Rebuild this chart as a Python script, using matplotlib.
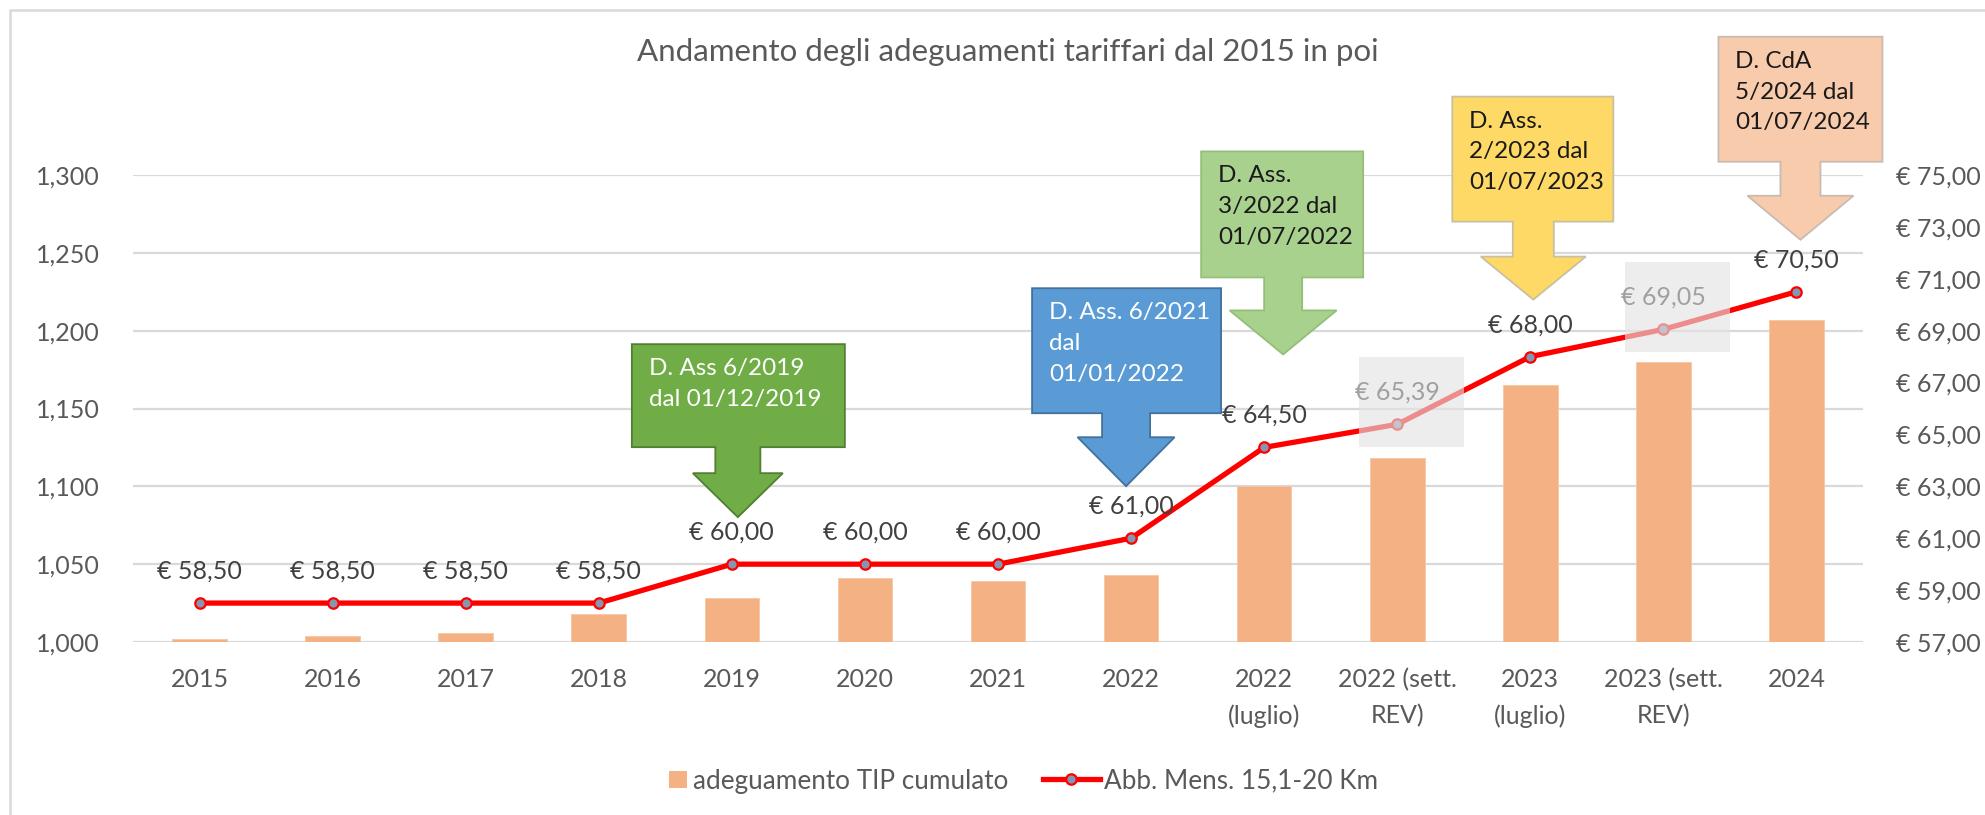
import matplotlib
matplotlib.use('Agg')
import matplotlib.pyplot as plt
from matplotlib.patches import Polygon, Rectangle
from matplotlib.lines import Line2D
from matplotlib.legend_handler import HandlerPatch
import matplotlib.patches as mpatches

plt.rcParams['font.family'] = ['Lato', 'DejaVu Sans']

# ---------------- data ----------------
categories = ["2015", "2016", "2017", "2018", "2019", "2020", "2021", "2022",
              "2022\n(luglio)", "2022 (sett.\nREV)", "2023\n(luglio)",
              "2023 (sett.\nREV)", "2024"]
tip_cumulato = [1.002, 1.004, 1.006, 1.018, 1.028, 1.041, 1.039, 1.043,
                1.100, 1.118, 1.165, 1.180, 1.207]
abb_mensile = [58.50, 58.50, 58.50, 58.50, 60.00, 60.00, 60.00, 61.00,
               64.50, 65.39, 68.00, 69.05, 70.50]
highlighted = [False, False, False, False, False, False, False, False,
               False, True, False, True, False]
left_ticks = [1.000, 1.050, 1.100, 1.150, 1.200, 1.250, 1.300]
right_ticks = [57, 59, 61, 63, 65, 67, 69, 71, 73, 75]

title = "Andamento degli adeguamenti tariffari dal 2015 in poi"
bar_label = "adeguamento TIP cumulato"
line_label = "Abb. Mens. 15,1-20 Km"

callout_index = [4, 7, 8, 10, 12]
callout_texts = ["D. Ass 6/2019\ndal 01/12/2019",
                 "D. Ass. 6/2021\ndal\n01/01/2022",
                 "D. Ass.\n3/2022 dal\n01/07/2022",
                 "D. Ass.\n2/2023 dal\n01/07/2023",
                 "D. CdA\n5/2024 dal\n01/07/2024"]

# ---------------- styles ----------------
callout_fill = ["#70AD47", "#5B9BD5", "#A9D18E", "#FFD966", "#F8CBAD"]
callout_edge = ["#507E32", "#41719C", "#94BF78", "#C8C0A0", "#C8BBB0"]
callout_textc = ["white", "white", "#1A1A1A", "#1A1A1A", "#1A1A1A"]
# geometry in pixels (y up) relative to tip: tip_dx, tip_gap, boxL, boxR, box_bottom, box_top, shaft_half, head_half, head_h
callout_geom = [
    (6, 47, 106, 107, 70, 173, 22.5, 45, 44),
    (-5, 52, 94, 95, 73, 198, 24, 48.5, 49),
    (19, 93, 82, 80, 77, 203, 19, 53.5, 44),
    (3, 57, 81, 80, 78, 203, 20.5, 52.5, 43),
    (4, 52, 82, 82, 78, 203, 20, 53, 44),
]

W, H = 1985, 815
fig = plt.figure(figsize=(W / 100, H / 100), dpi=100)
fig.patch.set_facecolor('white')

ax = fig.add_axes([133 / W, 1 - 642 / H, (1863 - 133) / W, (642 - 175) / H])
ax2 = ax.twinx()

x = list(range(len(categories)))
ax.bar(x, tip_cumulato, width=0.41, color="#F4B183", edgecolor="#F8C7A2",
       linewidth=0.6, zorder=2, label=bar_label)
ax.set_ylim(1.0, 1.3)
ax.set_xlim(-0.5, len(categories) - 0.5)
ax.set_yticks(left_ticks)
ax.set_yticklabels([f"{v:.3f}".replace('.', ',') for v in left_ticks])
ax.grid(axis='y', color='#D9D9D9', linewidth=1.6, zorder=0)
ax.set_axisbelow(True)
ax.set_xticks(x)
ax.set_xticklabels(categories)
for lab in ax.get_xticklabels():
    lab.set_linespacing(1.65)
for s in ax.spines.values():
    s.set_visible(False)
for s in ax2.spines.values():
    s.set_visible(False)
ax.tick_params(axis='y', length=0, pad=24, labelsize=18, labelcolor='#595959')
ax.tick_params(axis='x', length=0, pad=19, labelsize=18, labelcolor='#595959')

ax2.plot(x, abb_mensile, color='#FF0000', linewidth=3.8, marker='o',
         markersize=7.5, markerfacecolor='#8497B0', markeredgecolor='#FF0000',
         markeredgewidth=1.6, zorder=3, label=line_label)
ax2.set_ylim(57, 75)
ax2.set_yticks(right_ticks)
ax2.set_yticklabels([f"€ {v:.2f}".replace('.', ',') for v in right_ticks])
ax2.tick_params(axis='y', length=0, pad=24, labelsize=18, labelcolor='#595959')
ax.set_zorder(1)
ax2.set_zorder(2)
ax2.patch.set_visible(False)

def px(xv, yv):
    return ax2.transData.transform((xv, yv))

def to_fig(pts):
    return [(a / W, b / H) for a, b in pts]

# highlighted (grey) boxes
for i, (v, hl) in enumerate(zip(abb_mensile, highlighted)):
    if hl:
        cx, cy = px(i, v)
        rect = Rectangle(((cx - 38) / W, (cy - 23) / H), 105 / W, 90 / H,
                         transform=fig.transFigure, facecolor='#E3E3E3',
                         edgecolor='none', alpha=0.62, zorder=5)
        fig.add_artist(rect)

# data labels
for i, (v, hl) in enumerate(zip(abb_mensile, highlighted)):
    cx, cy = px(i, v)
    txt = f"€ {v:.2f}".replace('.', ',')
    fig.text(cx / W, (cy + 32) / H, txt, ha='center', va='center',
             fontsize=18, color='#A0A0A0' if hl else '#404040', zorder=6)

# callouts
for k, idx in enumerate(callout_index):
    tdx, gap, bl, br, b0, b1, sh, hh, hH = callout_geom[k]
    cx, cy = px(idx, abb_mensile[idx])
    tx, ty = cx + tdx, cy + gap
    rel = [(0, 0), (-hh, hH), (-sh, hH), (-sh, b0), (-bl, b0), (-bl, b1),
           (br, b1), (br, b0), (sh, b0), (sh, hH), (hh, hH)]
    pts = [(tx + a, ty + b) for a, b in rel]
    poly = Polygon(to_fig(pts), closed=True, transform=fig.transFigure,
                   facecolor=callout_fill[k], edgecolor=callout_edge[k],
                   linewidth=1.3, zorder=7)
    fig.add_artist(poly)
    fig.text((tx - bl + 17) / W, (ty + b1 - 14) / H, callout_texts[k],
             ha='left', va='top', fontsize=17.5, color=callout_textc[k],
             linespacing=1.58, zorder=8)

# title
fig.text(1008 / W, 1 - 52 / H, title, ha='center', va='center',
         fontsize=22.5, color='#595959')

# legend
def square_patch(legend, orig_handle, xdescent, ydescent, width, height, fontsize):
    s = height * 0.95
    return mpatches.Rectangle((-xdescent + width - s - 2, -ydescent + (height - s) / 2),
                              s, s)

bar_handle = mpatches.Patch(facecolor='#F4B183', edgecolor='none')
line_handle = Line2D([], [], color='#FF0000', linewidth=3.8, marker='o',
                     markersize=7.5, markerfacecolor='#8497B0',
                     markeredgecolor='#FF0000', markeredgewidth=1.6)
leg = fig.legend([bar_handle, line_handle], [bar_label, line_label],
                 loc='center', bbox_to_anchor=(1005 / W, 1 - 781 / H),
                 ncol=2, frameon=False, fontsize=18.8, handlelength=2.2,
                 handletextpad=0.15, columnspacing=1.3,
                 handler_map={mpatches.Patch: HandlerPatch(patch_func=square_patch)})
for t in leg.get_texts():
    t.set_color('#595959')

# outer chart border
fig.add_artist(Rectangle((10 / W, -0.1), 2, 1 - 10 / H + 0.1, fill=False,
                         edgecolor='#D9D9D9', linewidth=1.8,
                         transform=fig.transFigure, zorder=0))

fig.savefig('out.png', dpi=100)
